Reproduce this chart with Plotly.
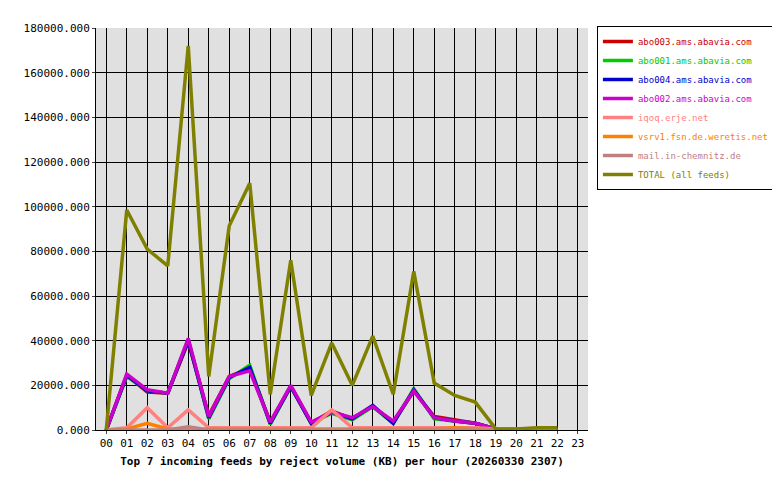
import plotly.graph_objects as go

hours = ['%02d' % h for h in range(24)]

abo003 = [0, 24500, 17000, 16500, 39500, 6500, 24000, 27500, 3500, 19500, 3000, 8500, 5000, 10500, 3500, 17500, 6000, 4500, 3000, 500]
abo001 = [0, 24000, 17500, 16500, 40500, 5000, 23000, 29000, 2500, 19500, 3000, 7500, 4500, 10500, 3000, 18500, 5000, 4000, 3000, 500]
abo004 = [0, 24500, 17500, 16500, 40000, 5500, 23500, 28000, 3000, 19500, 3000, 8000, 5000, 11000, 3000, 18000, 5500, 4000, 3000, 500]
abo002 = [0, 25000, 18000, 16500, 41000, 6000, 24000, 26500, 3500, 20000, 3500, 8000, 5500, 10500, 4000, 17500, 5500, 4000, 3000, 500]
iqoq = [0, 1000, 10000, 1000, 9000, 1000, 1000, 1000, 1000, 1000, 1000, 9000, 1000, 1000, 1000, 1000, 1000, 1000, 1000, 500, 500, 500, 500]
vsrv1 = [0, 500, 3000, 500, 0, 500, 500, 500, 500, 500, 500, 500, 500, 500, 500, 500, 500, 1000, 500, 500, 500, 500, 500]
mail = [0, 0, 0, 0, 1500, 0, 0, 0, 0, 0, 0, 0, 0, 0, 0, 0, 0, 0, 0, 0, 0, 0, 0]
total = [0, 98500, 81000, 73500, 172000, 24000, 91500, 110500, 16000, 76000, 15500, 39000, 20000, 42000, 16000, 71000, 21000, 15500, 12500, 500, 500, 1000, 1000]

series = [
    ('abo003.ams.abavia.com', abo003, '#cc0000'),
    ('abo001.ams.abavia.com', abo001, '#00cc00'),
    ('abo004.ams.abavia.com', abo004, '#0000cc'),
    ('abo002.ams.abavia.com', abo002, '#cc00cc'),
    ('iqoq.erje.net', iqoq, '#ff8080'),
    ('vsrv1.fsn.de.weretis.net', vsrv1, '#ff8000'),
    ('mail.in-chemnitz.de', mail, '#c08080'),
    ('TOTAL (all feeds)', total, '#808000'),
]

font = 'DejaVu Sans Mono'
fig = go.Figure()
for name, vals, col in series:
    fig.add_trace(go.Scatter(x=hours[:len(vals)], y=vals,
                             name='<span style="color:%s">%s</span>' % (col, name),
                             mode='lines', line=dict(color=col, width=3.5)))

fig.update_layout(
    width=780, height=480,
    margin=dict(l=88, r=200, t=20, b=58, autoexpand=False),
    paper_bgcolor='white', plot_bgcolor='#e0e0e0',
    font=dict(family=font, size=10, color='black'),
    showlegend=True,
    legend=dict(xref='container', yref='container', x=0.755, y=0.9625,
                xanchor='left', yanchor='top',
                bordercolor='black', borderwidth=1, bgcolor='white',
                font=dict(family=font, size=9), tracegroupgap=0, itemwidth=30),
    xaxis=dict(type='category', categoryarray=hours, range=[-0.5, 23.5],
               showgrid=True, gridcolor='black', gridwidth=1, automargin=False,
               showline=True, linecolor='black', ticks='outside', ticklen=3,
               tickfont=dict(size=11),
               title=dict(text='<b>Top 7 incoming feeds by reject volume (KB) per hour (20260330 2307)</b>',
                          font=dict(family=font, size=11), standoff=8)),
    yaxis=dict(range=[0, 180000], dtick=20000, tickformat='.3f', automargin=False,
               showgrid=True, gridcolor='black', gridwidth=1, zeroline=False,
               showline=True, linecolor='black', ticks='outside', ticklen=3,
               tickfont=dict(size=11)),
)

fig.write_html('out.html')
